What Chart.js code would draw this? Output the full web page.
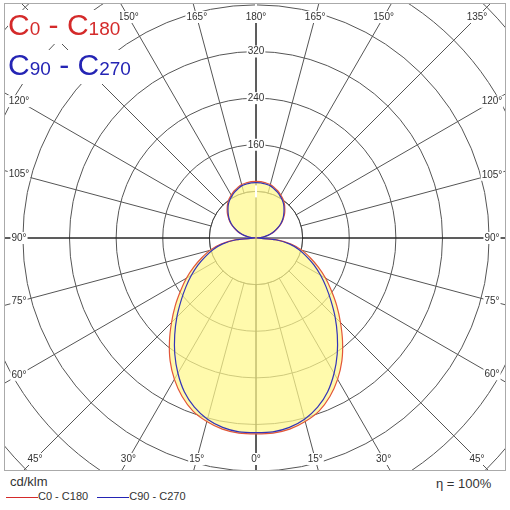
<!DOCTYPE html>
<html><head><meta charset="utf-8">
<script src="https://cdn.jsdelivr.net/npm/chart.js@4"></script>
<style>
body{margin:0;background:#fff;font-family:Arial,"Liberation Sans",sans-serif}
#wrap{position:relative;width:510px;height:510px;overflow:hidden}
#frame{position:absolute;left:4px;top:3px;width:500px;height:466px;border:1px solid #aaa;overflow:hidden}
#c{position:absolute;left:-128px;top:-145px}
.lg{position:absolute;left:8px;font-size:30px;line-height:30px;background:#fff}
.lg small{font-size:19px}
.bt{position:absolute;font-size:12px;color:#333}
</style></head><body>
<div id="wrap">
<div id="frame"><canvas id="c" width="758" height="758"></canvas></div>
<div class="lg" style="top:10px;color:#d42a2a">C<small>0</small> - C<small>180</small></div>
<div class="lg" style="top:50px;color:#2424b4">C<small>90</small> - C<small>270</small></div>
<div class="bt" style="left:10px;top:474px;font-size:13px">cd/klm</div>
<div class="bt" style="left:6px;top:490px;font-size:11px"><span style="display:inline-block;width:32px;border-top:1px solid #d42a2a;vertical-align:middle"></span>C0 - C180 &nbsp;&nbsp;<span style="display:inline-block;width:32px;border-top:1px solid #2424b4;vertical-align:middle"></span>C90 - C270</div>
<div class="bt" style="left:436px;top:476px;font-size:13px">η = 100%</div>
</div>
<script>
const gammas=[0,5,10,15,20,25,30,35,40,45,50,55,60,65,70,75,80,85,90,95,100,105,110,115,120,125,130,135,140,145,150,155,160,165,170,175,180];
const c0c180=[336,336,333,326,316,300,280,257,231,205,181,158,138,118,99,82,62,36,2,8,17,26,34,42,50,57,64,70,76,81,85,89,92,95,96,97,97];
const c90c270=[334,334,330,322,309,291,268,243,217,192,168,147,128,110,92,76,58,34,2,8,16,25,33,41,49,56,62,68,74,79,83,87,90,93,94,95,95];
const tickShown=[160,240,320];
const angleLabels=[0,15,30,45,60,75,90,105,120,135,150,165,180];
const labels=[],d1=[],d2=[];
for(let i=0;i<72;i++){
  const a=5*i; const g=a<=180?180-a:a-180; labels.push(g);
  const k=gammas.indexOf(g); d1.push(c0c180[k]); d2.push(c90c270[k]);
}
const FR={l:128+1,t:145+1,w:500,h:466};
const deco={id:'deco',
 beforeDatasetsDraw(ch){
  const s=ch.scales.r,ctx=ch.ctx,cx=s.xCenter,cy=s.yCenter,r80=s.getDistanceFromCenterForValue(80);
  ctx.save();
  ctx.fillStyle='#fff';ctx.beginPath();ctx.arc(cx,cy,r80-0.5,0,Math.PI*2);ctx.fill();
  ctx.strokeStyle='#444';ctx.lineWidth=1;ctx.beginPath();ctx.arc(cx,cy,r80,0,Math.PI*2);ctx.stroke();
  ctx.strokeStyle='#111';ctx.beginPath();
  ctx.moveTo(cx,0);ctx.lineTo(cx,ch.height);ctx.moveTo(0,cy);ctx.lineTo(ch.width,cy);ctx.stroke();
  ctx.restore();
 },
 afterDraw(ch){
  const s=ch.scales.r,ctx=ch.ctx,cx=s.xCenter,cy=s.yCenter;
  const L=FR.l+13,R=FR.l+FR.w-14,T=FR.t+12,B=FR.t+FR.h-12;
  ctx.save();ctx.font='10px Arial';ctx.textAlign='center';ctx.textBaseline='middle';
  for(let a=0;a<360;a+=15){
    const th=a*Math.PI/180,dx=Math.sin(th),dy=-Math.cos(th);
    let t=1e9;
    if(dx>1e-6)t=Math.min(t,(R-cx)/dx); if(dx<-1e-6)t=Math.min(t,(L-cx)/dx);
    if(dy>1e-6)t=Math.min(t,(B-cy)/dy); if(dy<-1e-6)t=Math.min(t,(T-cy)/dy);
    const x=cx+dx*t,y=cy+dy*t,g=a<=180?180-a:a-180,txt=g+'°';
    const w=ctx.measureText(txt).width;
    ctx.fillStyle='#fff';ctx.fillRect(x-w/2-1,y-6,w+2,12);
    ctx.fillStyle='#333';ctx.fillText(txt,x,y);
  }
  ctx.restore();
 }};
new Chart(document.getElementById('c'),{
 type:'radar',
 data:{labels,datasets:[
  {data:d2,borderColor:'#3434b8',borderWidth:1.2,fill:false,pointRadius:0,tension:0.25,order:0},
  {data:d1,borderColor:'#e2553a',borderWidth:1.2,backgroundColor:'rgba(255,248,140,0.72)',fill:true,pointRadius:0,tension:0.25,order:1}]},
 options:{responsive:false,animation:false,layout:{padding:0},
  plugins:{legend:{display:false},tooltip:{enabled:false}},
  scales:{r:{min:0,max:640,startAngle:0,
   ticks:{stepSize:80,z:1,font:{size:10},color:'#333',backdropColor:'#fff',backdropPadding:1,
    callback:v=>tickShown.includes(v)?String(v):''},
   grid:{color:'#555',lineWidth:1,circular:true},
   angleLines:{color:c=>(c.index%3===0)?'#555':'rgba(0,0,0,0)',lineWidth:1},
   pointLabels:{display:false}}}},
 plugins:[deco]});
</script></body></html>
